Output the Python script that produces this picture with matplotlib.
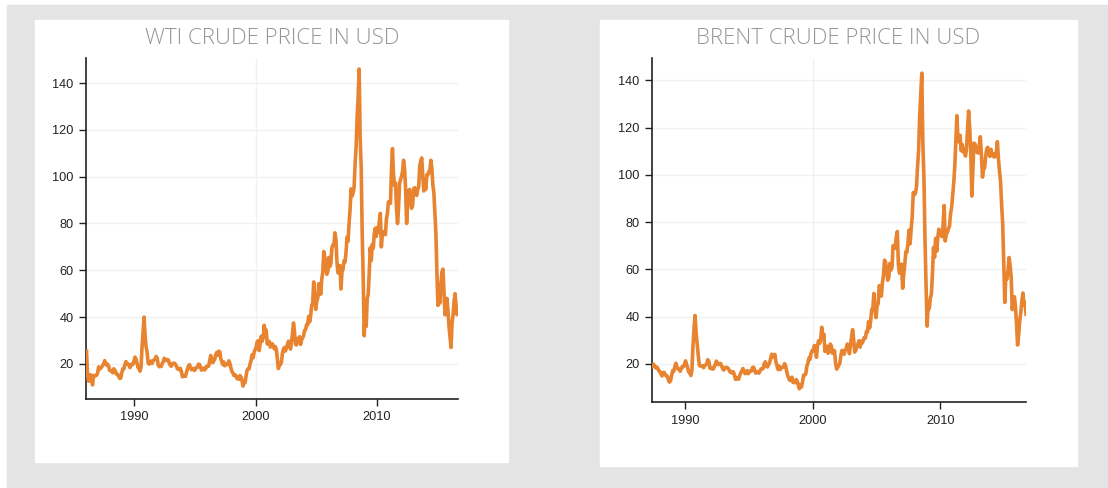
import numpy as np
import matplotlib.pyplot as plt
from matplotlib.patches import Rectangle

# Monthly crude prices (USD per barrel), read as monthly levels incl. extremes
wti_first_month = (1986, 1)
wti_prices = [
    25.5, 15.5, 12.6, 12.8, 15.4, 13.4, 11.0, 15.1, 14.9, 14.9, 15.2, 16.1,   # 1986
    18.7, 17.7, 18.3, 18.6, 19.4, 20.0, 21.4, 20.3, 19.5, 19.8, 18.9, 17.2,   # 1987
    17.1, 16.7, 16.2, 17.9, 17.4, 16.5, 15.5, 15.5, 14.5, 13.8, 14.0, 16.3,   # 1988
    18.0, 17.9, 19.4, 21.0, 20.0, 20.0, 19.6, 18.4, 19.4, 19.9, 19.8, 21.1,   # 1989
    22.9, 22.1, 20.4, 18.4, 18.2, 16.9, 18.6, 27.2, 33.7, 40.0, 32.3, 27.3,   # 1990
    25.2, 20.5, 19.9, 20.8, 21.2, 20.2, 21.4, 21.7, 21.9, 23.2, 22.5, 19.5,   # 1991
    18.8, 19.0, 18.9, 20.2, 20.9, 22.4, 21.8, 21.4, 21.9, 21.7, 20.3, 19.4,   # 1992
    19.0, 20.1, 20.3, 20.3, 19.9, 19.1, 17.9, 18.0, 17.5, 18.1, 16.7, 14.5,   # 1993
    15.0, 14.8, 14.7, 16.4, 17.9, 19.1, 19.7, 18.4, 17.5, 17.7, 18.1, 17.2,   # 1994
    18.0, 18.5, 18.6, 19.9, 19.7, 18.4, 17.3, 18.0, 18.2, 17.4, 18.0, 19.0,   # 1995
    18.9, 19.1, 21.4, 23.6, 21.3, 20.5, 21.3, 22.0, 24.0, 24.9, 23.7, 25.4,   # 1996
    25.2, 22.2, 21.0, 19.7, 20.8, 19.2, 19.6, 19.9, 19.8, 21.3, 20.2, 18.3,   # 1997
    16.7, 16.1, 15.0, 15.4, 14.9, 13.7, 14.2, 13.4, 15.0, 14.4, 12.9, 10.5,   # 1998
    12.5, 12.0, 14.7, 17.3, 17.8, 17.9, 20.1, 21.3, 23.9, 22.6, 25.0, 26.1,   # 1999
    27.2, 29.4, 29.9, 25.7, 28.8, 31.8, 29.7, 31.3, 36.5, 33.1, 34.4, 28.5,   # 2000
    29.6, 29.6, 27.2, 27.4, 28.6, 27.6, 26.4, 27.4, 26.2, 22.2, 18.0, 19.4,   # 2001
    19.7, 20.7, 24.4, 26.3, 27.0, 25.5, 26.9, 28.4, 29.7, 28.9, 26.3, 29.4,   # 2002
    32.9, 37.5, 33.6, 28.3, 28.1, 30.7, 30.8, 31.6, 28.3, 30.3, 31.1, 32.1,   # 2003
    34.3, 34.7, 36.8, 36.7, 40.3, 38.0, 40.7, 44.9, 46.0, 55.0, 48.5, 43.3,   # 2004
    46.8, 48.0, 54.3, 53.0, 49.8, 56.4, 59.0, 68.0, 65.6, 62.4, 58.3, 59.4,   # 2005
    65.5, 61.6, 62.9, 69.4, 70.8, 70.9, 76.0, 73.0, 63.8, 58.9, 59.1, 62.0,   # 2006
    52.0, 59.3, 60.4, 64.0, 63.5, 67.5, 74.1, 72.4, 79.9, 85.8, 94.8, 91.7,   # 2007
    93.0, 95.4, 105.4, 112.6, 125.4, 133.9, 146.0, 116.7, 104.1, 76.6, 57.3, 32.0,  # 2008
    41.7, 36.0, 47.9, 49.7, 59.0, 69.6, 64.2, 71.1, 69.4, 75.7, 78.0, 74.5,   # 2009
    78.3, 76.4, 81.2, 84.3, 70.0, 75.3, 76.3, 76.6, 75.2, 81.9, 84.3, 89.2,   # 2010
    89.2, 88.6, 102.9, 112.0, 100.9, 96.3, 97.3, 86.3, 80.0, 86.3, 97.2, 98.6,  # 2011
    100.3, 102.2, 107.0, 103.3, 94.7, 80.0, 87.9, 94.1, 94.5, 89.5, 86.5, 87.9,  # 2012
    94.8, 95.3, 92.9, 92.0, 94.5, 95.8, 104.6, 106.6, 108.0, 100.5, 93.9, 97.6,  # 2013
    94.6, 100.8, 100.8, 102.1, 102.2, 107.0, 103.6, 96.5, 93.2, 84.4, 75.8, 59.3,  # 2014
    45.0, 50.6, 46.0, 54.5, 59.3, 60.5, 50.9, 41.0, 45.5, 48.0, 42.4, 36.0,   # 2015
    31.7, 27.0, 37.5, 40.8, 46.7, 50.0, 44.7, 41.0, 44.0,                     # 2016
]

brent_first_month = (1987, 5)
brent_prices = [
    18.6, 18.9, 19.9, 18.9, 18.3, 18.7, 18.1, 17.0,                           # 1987
    16.8, 15.7, 14.9, 16.4, 16.4, 15.5, 14.9, 14.8, 13.2, 12.3, 13.0, 15.2,   # 1988
    17.2, 16.9, 18.7, 20.3, 18.6, 17.9, 17.8, 16.9, 18.0, 18.9, 18.8, 19.7,   # 1989
    21.3, 19.9, 18.4, 16.6, 16.3, 15.1, 17.2, 27.2, 35.0, 40.5, 33.1, 28.3,   # 1990
    23.6, 19.5, 19.1, 19.2, 19.2, 18.4, 19.3, 19.6, 20.2, 21.8, 21.0, 18.2,   # 1991
    18.0, 18.2, 17.8, 18.8, 19.8, 21.2, 20.2, 19.7, 20.2, 20.2, 19.0, 17.9,   # 1992
    17.4, 18.4, 18.6, 18.5, 18.2, 17.4, 16.5, 16.8, 16.1, 16.6, 15.3, 13.5,   # 1993
    14.2, 13.6, 13.6, 15.2, 16.3, 17.1, 18.1, 16.9, 15.9, 16.2, 17.2, 15.9,   # 1994
    16.6, 17.1, 17.0, 18.5, 18.6, 17.4, 16.1, 16.6, 16.7, 16.1, 17.0, 17.9,   # 1995
    17.9, 18.1, 20.2, 20.9, 19.1, 18.7, 19.6, 20.5, 22.4, 24.1, 23.0, 23.9,   # 1996
    24.0, 20.8, 19.2, 17.6, 19.1, 17.6, 18.4, 18.6, 18.6, 20.1, 19.2, 17.1,   # 1997
    15.1, 14.1, 13.0, 13.5, 14.4, 12.2, 12.1, 12.1, 13.4, 12.8, 11.0, 9.5,    # 1998
    11.1, 10.3, 12.5, 15.3, 15.3, 15.8, 19.0, 20.3, 22.5, 22.0, 24.6, 25.6,   # 1999
    25.5, 27.8, 27.5, 22.8, 27.6, 29.8, 28.7, 30.4, 35.5, 30.9, 32.6, 25.3,   # 2000
    25.6, 27.5, 24.5, 25.6, 28.4, 27.7, 24.5, 25.7, 25.6, 20.5, 17.8, 18.5,   # 2001
    19.4, 20.3, 23.7, 25.7, 25.4, 24.1, 25.7, 26.6, 28.4, 27.5, 24.3, 28.0,   # 2002
    31.2, 34.5, 30.3, 25.0, 25.8, 27.6, 28.4, 29.8, 27.1, 29.6, 28.8, 29.8,   # 2003
    31.2, 30.9, 33.8, 33.4, 37.9, 35.2, 38.4, 43.0, 43.4, 49.8, 43.1, 39.6,   # 2004
    44.5, 45.5, 53.1, 51.9, 48.7, 54.3, 57.5, 63.9, 63.0, 59.3, 55.4, 56.5,   # 2005
    62.5, 59.7, 60.9, 70.0, 69.8, 68.9, 73.6, 76.0, 62.1, 58.4, 58.9, 62.2,   # 2006
    52.0, 57.8, 62.1, 67.5, 67.2, 71.1, 76.6, 70.8, 77.1, 82.3, 92.5, 91.5,   # 2007
    92.2, 94.9, 103.3, 110.4, 124.6, 133.5, 143.0, 113.2, 99.0, 72.8, 53.2, 36.0,  # 2008
    44.9, 43.4, 47.7, 49.5, 58.1, 69.2, 65.1, 73.1, 67.7, 73.2, 77.0, 74.7,   # 2009
    76.2, 73.8, 78.8, 87.0, 72.0, 74.8, 75.6, 77.1, 78.2, 83.5, 86.1, 91.5,   # 2010
    96.5, 103.7, 114.6, 125.0, 114.5, 113.9, 116.7, 110.2, 112.8, 109.6, 110.8, 107.9,  # 2011
    110.7, 119.3, 127.0, 119.8, 110.3, 91.0, 102.6, 113.4, 113.0, 111.5, 109.5, 109.2,  # 2012
    112.3, 116.1, 108.5, 99.0, 102.6, 102.9, 107.7, 111.0, 111.6, 109.1, 107.8, 110.8,  # 2013
    108.1, 108.9, 107.5, 107.8, 109.5, 114.0, 106.8, 101.6, 97.1, 87.4, 79.4, 62.3,  # 2014
    46.0, 58.1, 55.9, 59.5, 65.0, 61.5, 56.6, 43.0, 47.6, 48.4, 44.3, 37.0,   # 2015
    28.0, 32.2, 38.2, 41.6, 46.7, 50.0, 45.0, 46.1, 41.0,                     # 2016
]

titles = ["WTI CRUDE PRICE IN USD", "BRENT CRUDE PRICE IN USD"]
year_ticks = [1990, 2000, 2010]
price_ticks = [20, 40, 60, 80, 100, 120, 140]

LINE = "#e8832f"
GRID = "#f1f1f1"


def month_axis(first, n):
    y, m = first
    return y + (m - 1 + 0.5) / 12 + np.arange(n) / 12


W, H = 1108, 488
fig = plt.figure(figsize=(W / 100, H / 100), dpi=100, facecolor="white")


def px_rect(x0, y0, x1, y1, color):
    fig.patches.append(Rectangle((x0 / W, 1 - y1 / H), (x1 - x0) / W, (y1 - y0) / H,
                                 transform=fig.transFigure, color=color, zorder=-10))


# grey backdrop and the two white panels
px_rect(7, 5, W, H, "#e4e4e4")
px_rect(35, 20, 508, 462, "white")
px_rect(600, 20, 1077, 466, "white")

panels = [
    dict(prices=wti_prices, first=wti_first_month, box=(86, 58, 458, 399),
         xlim=(1986.0, 2016.7), ylim=(5, 150.7), title_x=272),
    dict(prices=brent_prices, first=brent_first_month, box=(652, 58, 1026, 402),
         xlim=(1987.42, 2016.7), ylim=(3.9, 149.4), title_x=838),
]

for p, title in zip(panels, titles):
    x0, y0, x1, y1 = p["box"]
    ax = fig.add_axes([x0 / W, 1 - y1 / H, (x1 - x0) / W, (y1 - y0) / H])
    ax.set_facecolor("white")
    t = month_axis(p["first"], len(p["prices"]))
    ax.plot(t, p["prices"], color=LINE, lw=2.6, solid_joinstyle="round", zorder=3)
    ax.set_xlim(*p["xlim"])
    ax.set_ylim(*p["ylim"])
    ax.set_xticks(year_ticks)
    ax.set_yticks(price_ticks)
    for v in price_ticks:
        ax.axhline(v, color=GRID, lw=1, zorder=1)
    ax.axvline(2000, color=GRID, lw=1, zorder=1)
    for s in ["top", "right"]:
        ax.spines[s].set_visible(False)
    for s in ["left", "bottom"]:
        ax.spines[s].set_color("#222222")
        ax.spines[s].set_linewidth(1.2)
    ax.tick_params(direction="out", length=5, width=1, color="#222222",
                   labelsize=9.2, labelcolor="#222222", pad=4)
    for lab in ax.get_xticklabels() + ax.get_yticklabels():
        lab.set_fontfamily("Liberation Sans")
    fig.text(p["title_x"] / W, 1 - 39 / H, title, ha="center", va="center",
             fontsize=16, color="#959595", fontfamily="Open Sans", fontweight="light")

fig.savefig("out.png", dpi=100, facecolor=fig.get_facecolor())
